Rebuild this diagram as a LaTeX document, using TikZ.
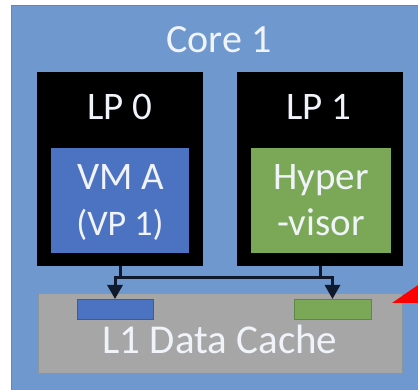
\documentclass[tikz,border=0pt]{standalone}
\usepackage{fontspec}
\setmainfont{Carlito}
\usetikzlibrary{arrows.meta,calc}
\definecolor{coreblue}{RGB}{111,152,206}
\definecolor{coreedge}{RGB}{96,134,190}
\definecolor{vmblue}{RGB}{76,114,194}
\definecolor{hvgreen}{RGB}{122,168,86}
\definecolor{cachegrey}{RGB}{166,166,166}
\definecolor{cacheedge}{RGB}{140,148,160}
\definecolor{wire}{RGB}{16,26,44}
\definecolor{softwhite}{RGB}{240,244,250}
\begin{document}
\begin{tikzpicture}[x=1pt,y=-1pt,
  box/.style={draw=none,inner sep=0pt,outer sep=0pt},
  label/.style={anchor=base,text=softwhite,inner sep=0pt},
  wirearrow/.style={draw=wire,line width=3pt,-{Triangle[width=15pt,length=14pt]}}]
  % page area
  \useasboundingbox (0,0) rectangle (418,390);
  \fill[white] (0,0) rectangle (418,390);
  % core background
  \fill[coreblue] (11,5) rectangle (418,390);
  \draw[coreedge,line width=1.2pt] (11.6,390) -- (11.6,5.6) -- (418,5.6);
  \node[label,font=\fontsize{40}{40}\selectfont] (core) at (219,53) {Core 1};

  % logical processors
  \node[box,fill=black,minimum width=166pt,minimum height=194pt] (lp0) at (120,169.5) {};
  \node[box,fill=black,minimum width=166pt,minimum height=194pt] (lp1) at (320,169.5) {};
  \node[label,font=\fontsize{39}{39}\selectfont] (lp0t) at (120,120) {LP 0};
  \node[label,font=\fontsize{39}{39}\selectfont] (lp1t) at (319,120) {LP 1};

  % guest and hypervisor
  \node[box,fill=vmblue,minimum width=138pt,minimum height=105pt] (vma) at (120,200.5) {};
  \node[box,fill=hvgreen,minimum width=140pt,minimum height=105pt] (hyp) at (321,200.5) {};
  \node[label,font=\fontsize{39}{39}\selectfont] (vmat) at (121,190) {VM A};
  \node[label,font=\fontsize{36}{36}\selectfont] (vpt) at (120,236) {(VP 1)};
  \node[label,font=\fontsize{39}{39}\selectfont] (hypt) at (321,190) {Hyper};
  \node[label,font=\fontsize{39}{39}\selectfont] (visort) at (321,236) {-visor};

  % L1 data cache with its two lines
  \node[box,fill=cachegrey,draw=cacheedge,line width=0.8pt,minimum width=364pt,minimum height=80pt] (cache) at (220,333) {};
  \node[box,fill=vmblue,draw=vmblue!80!black,line width=0.8pt,minimum width=76pt,minimum height=20pt] (slotA) at (115,309) {};
  \node[box,fill=hvgreen,draw=hvgreen!80!black,line width=0.8pt,minimum width=77pt,minimum height=20pt] (slotB) at (332.5,309) {};
  \node[label,font=\fontsize{41}{41}\selectfont] (cachet) at (220,353) {L1 Data Cache};

  % shared bus between the processors and the cache
  \coordinate (bus) at (0,278);
  \draw[wirearrow] (lp0.south) -- (lp0.south |- bus) -| (slotB.north);
  \draw[wirearrow] (lp1.south) -- (lp1.south |- bus) -| (slotA.north);

  % red pointer arrow entering from the right
  \fill[red] (392,303) -- (418,285) -- (418,303) -- cycle;
\end{tikzpicture}
\end{document}
